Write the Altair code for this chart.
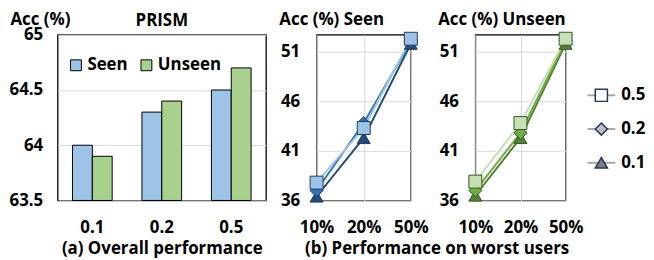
import altair as alt
import pandas as pd

FONT = "Open Sans"
FS = 17

# ---------- data ----------
ratios = ["0.1", "0.2", "0.5"]
seen_overall = [64.0, 64.3, 64.5]
unseen_overall = [63.9, 64.4, 64.7]

worst = ["10%", "20%", "50%"]
seen_01 = [36.4, 42.3, 51.8]
seen_02 = [37.0, 43.8, 52.0]
seen_05 = [37.8, 43.3, 52.3]
unseen_01 = [36.5, 42.3, 51.8]
unseen_02 = [37.0, 42.8, 52.1]
unseen_05 = [37.9, 43.8, 52.3]

legend_items = ["0.5", "0.2", "0.1"]

# ---------- panel (a) ----------
rows = []
for r, s, u in zip(ratios, seen_overall, unseen_overall):
    rows.append({"ratio": r, "group": "Seen", "acc": s})
    rows.append({"ratio": r, "group": "Unseen", "acc": u})
df_a = pd.DataFrame(rows)

bars = alt.Chart(df_a).mark_bar(stroke="black", strokeWidth=1).encode(
    x=alt.X("ratio:N", sort=ratios,
            scale=alt.Scale(paddingInner=0.4286, paddingOuter=0.2143),
            axis=alt.Axis(title="(a) Overall performance", labelAngle=0,
                          labelPadding=19, titlePadding=5, domain=False)),
    xOffset=alt.XOffset("group:N", scale=alt.Scale(domain=["Seen", "Unseen"], paddingInner=0, paddingOuter=0)),
    y=alt.Y("acc:Q", scale=alt.Scale(domain=[63.5, 65], nice=False, zero=False),
            axis=alt.Axis(values=[63.5, 64, 64.5, 65], format="~g", title="Acc (%)",
                          titleAngle=0, titleAlign="left", titleX=-48, titleY=-10,
                          titleBaseline="alphabetic", labelPadding=15, domain=False)),
    y2=alt.datum(63.5),
    color=alt.Color("group:N", scale=alt.Scale(domain=["Seen", "Unseen"], range=["#9DC3E6", "#A9D18E"]),
                    legend=alt.Legend(title=None, orient="none", legendX=10, legendY=22,
                                      direction="horizontal", symbolType="square", symbolSize=120,
                                      symbolStrokeColor="black", symbolStrokeWidth=1,
                                      labelFontSize=FS, labelFont=FONT, labelFontWeight="bold",
                                      labelColor="black", columnPadding=10, labelOffset=3)),
).properties(width=210, height=167,
             title=alt.TitleParams("PRISM", font=FONT, fontSize=FS, fontWeight="bold",
                                   color="black", frame="group", anchor="middle", offset=-19))

# ---------- panels (b) ----------
def line_df(v01, v02, v05):
    out = []
    for name, vals, z in (("0.1", v01, 0), ("0.2", v02, 1), ("0.5", v05, 2)):
        for w, v in zip(worst, vals):
            out.append({"worst": w, "s": name, "acc": v, "z": z})
    return pd.DataFrame(out)


def line_panel(df, title, colors, stroke, xtitle, width):
    xenc = alt.X("worst:N", sort=worst, scale=alt.Scale(type="point", padding=0),
                 axis=alt.Axis(title=xtitle, labelAngle=0, labelPadding=19, titlePadding=5,
                               titleX=121 if xtitle else 0, grid=True, domain=False))
    yenc = alt.Y("acc:Q", scale=alt.Scale(domain=[36, 52.7], nice=False, zero=False),
                 axis=alt.Axis(values=[36, 41, 46, 51], title=title, titleAngle=0,
                               titleAlign="left", titleX=-38, titleY=-10,
                               titleBaseline="alphabetic", labelPadding=17, domain=False))
    cscale = alt.Scale(domain=["0.1", "0.2", "0.5"], range=colors)
    base = alt.Chart(df)
    under = base.mark_line(strokeWidth=4.5, color="white").encode(
        x=xenc, y=yenc, detail="s:N", order="z:Q")
    lines = base.mark_line(strokeWidth=2).encode(
        x=xenc, y=yenc, color=alt.Color("s:N", scale=cscale, legend=None))
    pts = base.mark_point(filled=True, size=170, stroke=stroke, strokeWidth=1, opacity=1).encode(
        x=xenc, y=yenc,
        fill=alt.Fill("s:N", scale=cscale, legend=None),
        shape=alt.Shape("s:N", scale=alt.Scale(domain=["0.1", "0.2", "0.5"],
                                               range=["triangle-up", "diamond", "square"]),
                        legend=None),
        order=alt.Order("z:Q"))
    return alt.layer(under, lines, pts).properties(width=width, height=167)


seen_panel = line_panel(line_df(seen_01, seen_02, seen_05), "Acc (%) Seen",
                        ["#1F4E79", "#2E75B6", "#9DC3E6"], "#1F3864",
                        "(b) Performance on worst users", 95)
unseen_panel = line_panel(line_df(unseen_01, unseen_02, unseen_05), "Acc (%) Unseen",
                          ["#548235", "#70AD47", "#C5E0B4"], "#385723", None, 91)

# ---------- manual legend ----------
df_leg = pd.DataFrame({"s": legend_items})
ly = alt.Y("s:N", sort=legend_items, scale=alt.Scale(type="point", domain=legend_items, range=[44, 146]),
           axis=None)
leg_rule = alt.Chart(df_leg).mark_rule(color="#A6A6A6", strokeWidth=2).encode(
    x=alt.value(3), x2=alt.value(31), y=ly)
leg_pt = alt.Chart(df_leg).mark_point(filled=True, size=150, stroke="#203864", strokeWidth=1.5, opacity=1).encode(
    x=alt.value(17), y=ly,
    fill=alt.Fill("s:N", scale=alt.Scale(domain=legend_items, range=["#FFFFFF", "#BFBFBF", "#7F7F7F"]), legend=None),
    shape=alt.Shape("s:N", scale=alt.Scale(domain=legend_items, range=["square", "diamond", "triangle-up"]), legend=None))
leg_txt = alt.Chart(df_leg).mark_text(align="left", baseline="middle", font=FONT, fontSize=FS,
                                      fontWeight="bold", color="black").encode(
    x=alt.value(37), y=ly, text="s:N")
legend_panel = alt.layer(leg_rule, leg_pt, leg_txt).properties(
    width=60, height=167, view=alt.ViewBackground(stroke="transparent"))


def spacer(w):
    return alt.Chart(pd.DataFrame({"v": [0]})).mark_point(opacity=0).encode(
        x=alt.value(0), y=alt.value(0)).properties(
        width=w, height=167, view=alt.ViewBackground(stroke="transparent"))


chart = alt.hconcat(bars, spacer(13), seen_panel, spacer(27), unseen_panel, legend_panel,
                    spacing=19, bounds="flush").resolve_scale(
    color="independent", fill="independent", shape="independent"
).properties(padding={"left": 0, "top": 1, "right": 0, "bottom": 0}).configure_axis(
    labelFont=FONT, labelFontSize=FS, labelFontWeight="bold", labelColor="black",
    titleFont=FONT, titleFontSize=FS, titleFontWeight="bold", titleColor="black",
    ticks=False, gridColor="#D9D9D9", gridWidth=1,
).configure_view(stroke="black", strokeWidth=1.3)

chart.save("out.html", embed_options={"renderer": "svg", "actions": False})
